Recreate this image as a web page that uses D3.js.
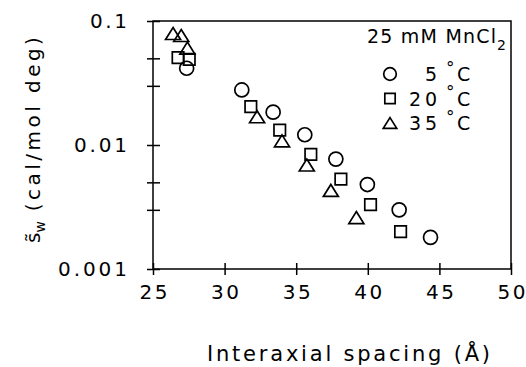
<!DOCTYPE html>
<html>
<head>
<meta charset="utf-8">
<script src="https://cdn.jsdelivr.net/npm/d3@7"></script>
<style>
  body { margin: 0; background: #fff; }
  text { font-family: "DejaVu Sans", sans-serif; fill: #000; }
</style>
</head>
<body>
<svg id="chart" width="526" height="367"></svg>
<script>
// interaxial spacing (Å) and s_w (cal/mol deg) per temperature, 25 mM MnCl2
const spacing5C  = [27.35, 31.2, 33.39, 35.6, 37.77, 39.97, 42.19, 44.38];
const sw5C       = [0.0416, 0.0278, 0.0184, 0.0121, 0.0077, 0.0048, 0.0030, 0.0018];
const spacing20C = [26.75, 27.53, 31.83, 33.85, 36.02, 38.12, 40.19, 42.29];
const sw20C      = [0.0506, 0.0490, 0.0204, 0.0132, 0.0084, 0.0053, 0.0033, 0.0020];
const spacing35C = [26.40, 26.97, 27.40, 32.27, 34.01, 35.74, 37.42, 39.20];
const sw35C      = [0.0793, 0.0764, 0.0605, 0.0169, 0.0108, 0.0069, 0.0043, 0.0026];

const legendLabels = ["5", "20", "35"];
const xTicks = [25, 30, 35, 40, 45, 50];
const yMajor = [0.1, 0.01, 0.001];
const yMinor = [0.05, 0.03, 0.005, 0.003];

const svg = d3.select("#chart");
const plotLeft = 153, plotRight = 511, plotTop = 21, plotBottom = 269;

const x = d3.scaleLinear().domain([25, 50]).range([plotLeft, plotRight]);
const y = d3.scaleLog().domain([0.001, 0.1]).range([plotBottom, plotTop]);

// triangle centred on its bounding box, size = width
const triangle = {
  draw(ctx, w) {
    const h = w * 0.8;
    ctx.moveTo(0, -h / 2);
    ctx.lineTo(w / 2, h / 2);
    ctx.lineTo(-w / 2, h / 2);
    ctx.closePath();
  }
};
const square = {
  draw(ctx, s) { ctx.rect(-s / 2, -s / 2, s, s); }
};
const circle = {
  draw(ctx, d) { ctx.moveTo(d / 2, 0); ctx.arc(0, 0, d / 2, 0, 2 * Math.PI); }
};

const series = [
  { xs: spacing5C,  ys: sw5C,  type: circle,   size: 14 },
  { xs: spacing20C, ys: sw20C, type: square,   size: 11.5 },
  { xs: spacing35C, ys: sw35C, type: triangle, size: 15 }
];

// wide, evenly spaced digits: 16px pitch per digit, 9px per point,
// no trailing gap after the last glyph
const spread = s => String(s).split("")
  .reduce((w, c) => w + (c === "." ? 9 : 16), 0) - 4;

// frame
svg.append("rect")
  .attr("x", plotLeft).attr("y", plotTop)
  .attr("width", plotRight - plotLeft).attr("height", plotBottom - plotTop)
  .attr("fill", "none").attr("stroke", "#000").attr("stroke-width", 1.5);

// x axis
const xAxis = svg.append("g")
  .attr("transform", `translate(0,${plotBottom})`)
  .call(d3.axisBottom(x).tickValues(xTicks).tickSize(6).tickPadding(10));
xAxis.select(".domain").remove();
xAxis.selectAll("line").attr("y1", -6).attr("stroke-width", 1.5);
xAxis.selectAll("text")
  .attr("font-size", 20).attr("font-family", "DejaVu Sans")
  .attr("textLength", d => spread(d)).attr("lengthAdjust", "spacing");

// y axis, major ticks with labels
const yAxis = svg.append("g")
  .attr("transform", `translate(${plotLeft},0)`)
  .call(d3.axisLeft(y).tickValues(yMajor).tickSize(6).tickPadding(20)
    .tickFormat(d3.format("~g")));
yAxis.select(".domain").remove();
yAxis.selectAll("line").attr("x1", 7).attr("stroke-width", 1.5);
yAxis.selectAll("text")
  .attr("font-size", 20).attr("font-family", "DejaVu Sans")
  .attr("textLength", d => spread(d3.format("~g")(d))).attr("lengthAdjust", "spacing");

// y axis, minor ticks
svg.append("g")
  .attr("transform", `translate(${plotLeft},0)`)
  .call(d3.axisLeft(y).tickValues(yMinor).tickSize(6).tickFormat(""))
  .call(g => g.select(".domain").remove())
  .call(g => g.selectAll("line").attr("x1", 7).attr("stroke-width", 1.5));

// data markers
series.forEach(s => {
  const sym = d3.symbol().type(s.type).size(s.size);
  svg.append("g").selectAll("path")
    .data(s.xs.map((v, i) => [v, s.ys[i]]))
    .join("path")
    .attr("d", sym)
    .attr("transform", d => `translate(${x(d[0])},${y(d[1])})`)
    .attr("fill", "none").attr("stroke", "#000").attr("stroke-width", 1.7);
});

// legend
const legend = svg.append("g");
legend.append("text")
  .attr("x", 367).attr("y", 43).attr("font-size", 19)
  .attr("textLength", 129).attr("lengthAdjust", "spacing")
  .text("25 mM MnCl");
legend.append("text").attr("x", 497).attr("y", 50).attr("font-size", 14).text("2");

series.forEach((s, i) => {
  const cy = 74 + i * 24.5;
  legend.append("path")
    .attr("d", d3.symbol().type(s.type).size(s.size * 0.9)())
    .attr("transform", `translate(390,${cy})`)
    .attr("fill", "none").attr("stroke", "#000").attr("stroke-width", 1.7);
  legend.append("text")
    .attr("x", 437).attr("y", cy + 7).attr("text-anchor", "end")
    .attr("font-size", 19)
    .attr("textLength", spread(legendLabels[i])).attr("lengthAdjust", "spacing")
    .text(legendLabels[i]);
  legend.append("text")
    .attr("x", 446).attr("y", cy - 0.5).attr("font-size", 17).text("°");
  legend.append("text")
    .attr("x", 457).attr("y", cy + 7).attr("font-size", 19).text("C");
});

// axis titles
svg.append("text")
  .attr("x", 207).attr("y", 361).attr("font-size", 21)
  .attr("textLength", 283).attr("lengthAdjust", "spacing")
  .text("Interaxial spacing (Å)");

const yTitle = svg.append("text")
  .attr("transform", "translate(40,243) rotate(-90)")
  .attr("font-size", 20);
yTitle.append("tspan").text("s\u0303");
yTitle.append("tspan").attr("font-size", 14).attr("dy", 5).text("w");
yTitle.append("tspan").attr("dy", -5).attr("dx", 10)
  .attr("textLength", 174).attr("lengthAdjust", "spacing")
  .text("(cal/mol deg)");
</script>
</body>
</html>
